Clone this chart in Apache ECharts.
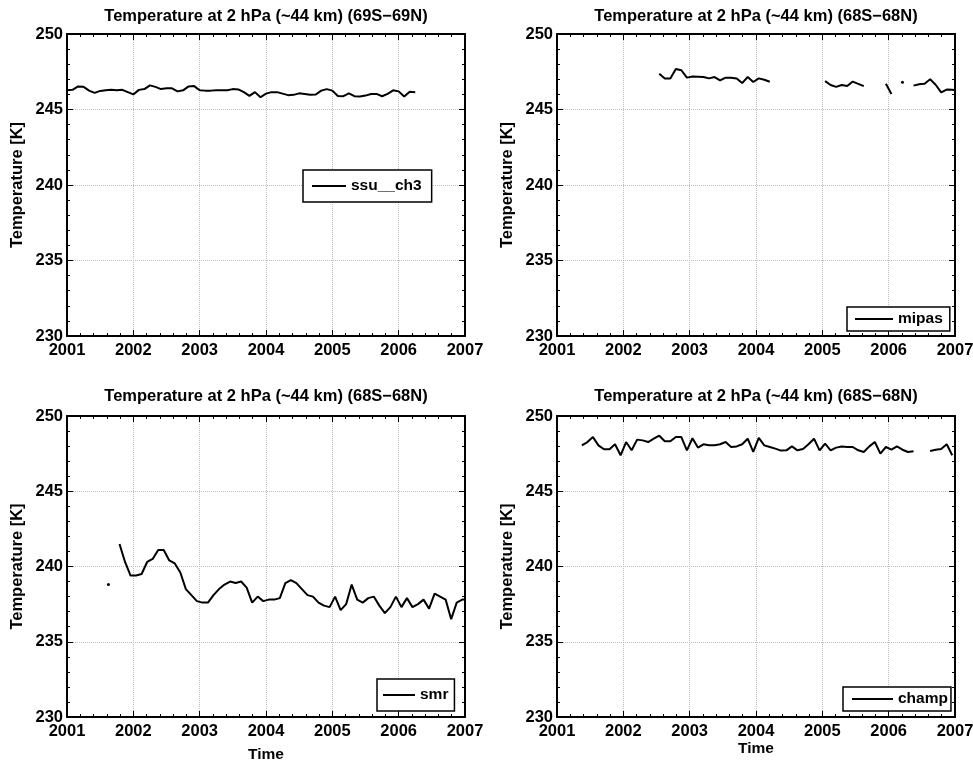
<!DOCTYPE html>
<html>
<head>
<meta charset="utf-8">
<title>Temperature at 2 hPa</title>
<script src="https://cdn.jsdelivr.net/npm/echarts@6/dist/echarts.min.js"></script>
<style>
  html, body { margin: 0; padding: 0; background: #fff; }
  #chart { width: 973px; height: 760px; }
</style>
</head>
<body>
<div id="chart"></div>
<script>
// axis ranges
var yearMin = 2001, yearMax = 2007, yearStep = 1;
var tempMin = 230, tempMax = 250, tempStep = 5;

var panelTitles = [
  'Temperature at 2 hPa (~44 km) (69S\u221269N)',
  'Temperature at 2 hPa (~44 km) (68S\u221268N)',
  'Temperature at 2 hPa (~44 km) (68S\u221268N)',
  'Temperature at 2 hPa (~44 km) (68S\u221268N)'
];
var seriesNames = ['ssu__ch3', 'mipas', 'smr', 'champ'];

// monthly means, first value at <start> months after Jan 2001, null = no data
var ssuStart = 0;
var ssuValues = [
  246.27, 246.3, 246.53, 246.5, 246.25, 246.1, 246.23, 246.27, 246.3, 246.27, 246.3, 246.15,
  246.0, 246.3, 246.35, 246.6, 246.5, 246.35, 246.4, 246.4, 246.2, 246.27, 246.53, 246.55,
  246.27, 246.25, 246.25, 246.27, 246.27, 246.27, 246.35, 246.33, 246.15, 245.9, 246.15, 245.81,
  246.05, 246.15, 246.15, 246.05, 245.95, 245.97, 246.07, 246.03, 245.97, 245.99, 246.25, 246.35,
  246.25, 245.9, 245.88, 246.07, 245.88, 245.86, 245.92, 246.03, 246.03, 245.88, 246.03, 246.27,
  246.2, 245.86, 246.18, 246.15
];

var mipasStart = 18.5;
var mipasValues = [
  247.37, 247.06, 247.06, 247.68, 247.6, 247.11, 247.19, 247.17, 247.15, 247.06, 247.15, 246.93,
  247.11, 247.11, 247.06, 246.75, 247.15, 246.82, 247.06, 246.97, 246.84,
  null, null, null, null, null, null, null, null, null,
  246.88, 246.62, 246.5, 246.62, 246.55, 246.85, 246.7, 246.55,
  null, null, null,
  246.71, 246.03,
  null,
  246.8,
  null,
  246.58, 246.67, 246.71, 247.0, 246.64, 246.14, 246.32, 246.3, 246.27
];

var smrStart = 7.5;
var smrValues = [
  238.8, null,
  241.5, 240.3, 239.4, 239.4, 239.5, 240.3, 240.5, 241.1, 241.1, 240.4, 240.2, 239.6,
  238.5, 238.1, 237.7, 237.6, 237.6, 238.1, 238.5, 238.8, 239.0, 238.9, 239.0, 238.6,
  237.6, 238.0, 237.7, 237.8, 237.8, 237.9, 238.9, 239.1, 238.9, 238.5, 238.1, 238.0,
  237.6, 237.4, 237.3, 238.0, 237.1, 237.5, 238.8, 237.8, 237.6, 237.9, 238.0, 237.4,
  236.9, 237.3, 238.0, 237.3, 237.9, 237.3, 237.5, 237.8, 237.2, 238.2, 238.0, 237.8,
  236.5, 237.6, 237.8, 237.8
];

var champStart = 4.5;
var champValues = [
  248.05, 248.27, 248.6, 248.05, 247.79, 247.79, 248.12, 247.39, 248.27, 247.72, 248.43, 248.38,
  248.27, 248.49, 248.69, 248.32, 248.32, 248.6, 248.6, 247.72, 248.52, 247.9, 248.12, 248.05,
  248.05, 248.12, 248.27, 247.94, 247.98, 248.12, 248.49, 247.61, 248.54, 248.05, 247.94, 247.83,
  247.7, 247.72, 247.98, 247.72, 247.81, 248.12, 248.49, 247.72, 248.16, 247.72, 247.9, 247.98,
  247.94, 247.94, 247.72, 247.61, 247.98, 248.27, 247.5, 247.94, 247.76, 247.98, 247.76, 247.61,
  247.65,
  null, null,
  247.67, 247.76, 247.81, 248.12, 247.39
];

var FONT = 'Liberation Sans, Arial, Helvetica, sans-serif';

// turn a monthly list into [year, value] points, lone points get a dot
function toPoints(start, values) {
  return values.map(function (v, i) {
    var x = yearMin + (start + i) / 12;
    if (v == null) return [x, '-'];
    var prev = i > 0 ? values[i - 1] : null;
    var next = i < values.length - 1 ? values[i + 1] : null;
    if (prev == null && next == null) {
      return { value: [x, v], symbol: 'circle', symbolSize: 3 };
    }
    return [x, v];
  });
}

var panelData = [
  toPoints(ssuStart, ssuValues),
  toPoints(mipasStart, mipasValues),
  toPoints(smrStart, smrValues),
  toPoints(champStart, champValues)
];

// fixed plot boxes; outerBoundsMode none so labels near the edge don't shrink them
var grids = [
  { left: 67, top: 34, width: 398, height: 302, outerBoundsMode: 'none', containLabel: false },
  { left: 557, top: 34, width: 398, height: 302, outerBoundsMode: 'none', containLabel: false },
  { left: 67, top: 416, width: 398, height: 301, outerBoundsMode: 'none', containLabel: false },
  { left: 557, top: 416, width: 398, height: 301, outerBoundsMode: 'none', containLabel: false }
];

var tickStyle = { show: true, inside: true, length: 6, lineStyle: { color: '#000', width: 1 } };
var minorStyle = { show: true, splitNumber: 5, length: 3, lineStyle: { color: '#000', width: 1 } };
var frameLine = { show: true, onZero: false, lineStyle: { color: '#000', width: 2 } };
var gridLine = { show: true, lineStyle: { color: '#c0c0c0', type: 'dotted', width: 1 } };
var labelStyle = { color: '#000', fontFamily: FONT, fontWeight: 'bold', fontSize: 16.5 };

var xAxes = [], yAxes = [], series = [], legends = [];
var titleGaps = [9, 9, 11, 11];
var timeGaps = [0, 0, 30, 17];

grids.forEach(function (g, i) {
  xAxes.push({
    gridIndex: i, type: 'value', position: 'bottom',
    min: yearMin, max: yearMax, interval: yearStep,
    axisLine: frameLine, axisTick: tickStyle, minorTick: minorStyle,
    splitLine: gridLine,
    axisLabel: Object.assign({ margin: 6, formatter: function (v) { return String(v); } }, labelStyle),
    name: i >= 2 ? 'Time' : '', nameLocation: 'middle', nameGap: timeGaps[i],
    nameTextStyle: { color: '#000', fontFamily: FONT, fontWeight: 'bold', fontSize: 15.5 }
  });
  xAxes.push({
    gridIndex: i, type: 'value', position: 'top',
    min: yearMin, max: yearMax, interval: yearStep,
    axisLine: frameLine, axisTick: tickStyle, minorTick: minorStyle,
    splitLine: { show: false }, axisLabel: { show: false },
    name: panelTitles[i], nameLocation: 'middle', nameGap: titleGaps[i],
    nameTextStyle: { color: '#000', fontFamily: FONT, fontWeight: 'bold', fontSize: 16.5 }
  });
  yAxes.push({
    gridIndex: i, type: 'value', position: 'left',
    min: tempMin, max: tempMax, interval: tempStep,
    axisLine: frameLine, axisTick: tickStyle, minorTick: minorStyle,
    splitLine: gridLine,
    axisLabel: Object.assign({ margin: 4 }, labelStyle),
    name: 'Temperature [K]', nameLocation: 'middle', nameGap: 41,
    nameTextStyle: { color: '#000', fontFamily: FONT, fontWeight: 'bold', fontSize: 16.5 }
  });
  yAxes.push({
    gridIndex: i, type: 'value', position: 'right',
    min: tempMin, max: tempMax, interval: tempStep,
    axisLine: frameLine, axisTick: tickStyle, minorTick: minorStyle,
    splitLine: { show: false }, axisLabel: { show: false }
  });
  series.push({
    name: seriesNames[i], type: 'line',
    xAxisIndex: 2 * i, yAxisIndex: 2 * i,
    data: panelData[i],
    symbol: 'none', showSymbol: true, connectNulls: false,
    itemStyle: { color: '#000' },
    lineStyle: { color: '#000', width: 2 },
    clip: true
  });
});

var legendBoxes = [
  { left: 303, top: 170, lineLen: 34, padding: [8, 10, 8, 9] },
  { left: 847, top: 307, lineLen: 38, padding: [4, 7, 4, 8] },
  { left: 377, top: 679, lineLen: 32, padding: [8, 6, 8, 6] },
  { left: 843, top: 687, lineLen: 41, padding: [4, 3, 4, 9] }
];
legendBoxes.forEach(function (b, i) {
  legends.push({
    data: [seriesNames[i]],
    left: b.left, top: b.top, padding: b.padding,
    icon: 'rect', itemWidth: b.lineLen, itemHeight: 2, itemGap: 0,
    itemStyle: { color: '#000', borderWidth: 0 },
    selectedMode: false,
    borderColor: '#000', borderWidth: 1.5, borderRadius: 0,
    backgroundColor: '#fff',
    textStyle: { color: '#000', fontFamily: FONT, fontWeight: 'bold', fontSize: 15.5, lineHeight: 16 }
  });
});

var chart = echarts.init(document.getElementById('chart'), null, { renderer: 'canvas' });
chart.setOption({
  animation: false,
  backgroundColor: '#fff',
  grid: grids,
  xAxis: xAxes,
  yAxis: yAxes,
  legend: legends,
  series: series
});
</script>
</body>
</html>
